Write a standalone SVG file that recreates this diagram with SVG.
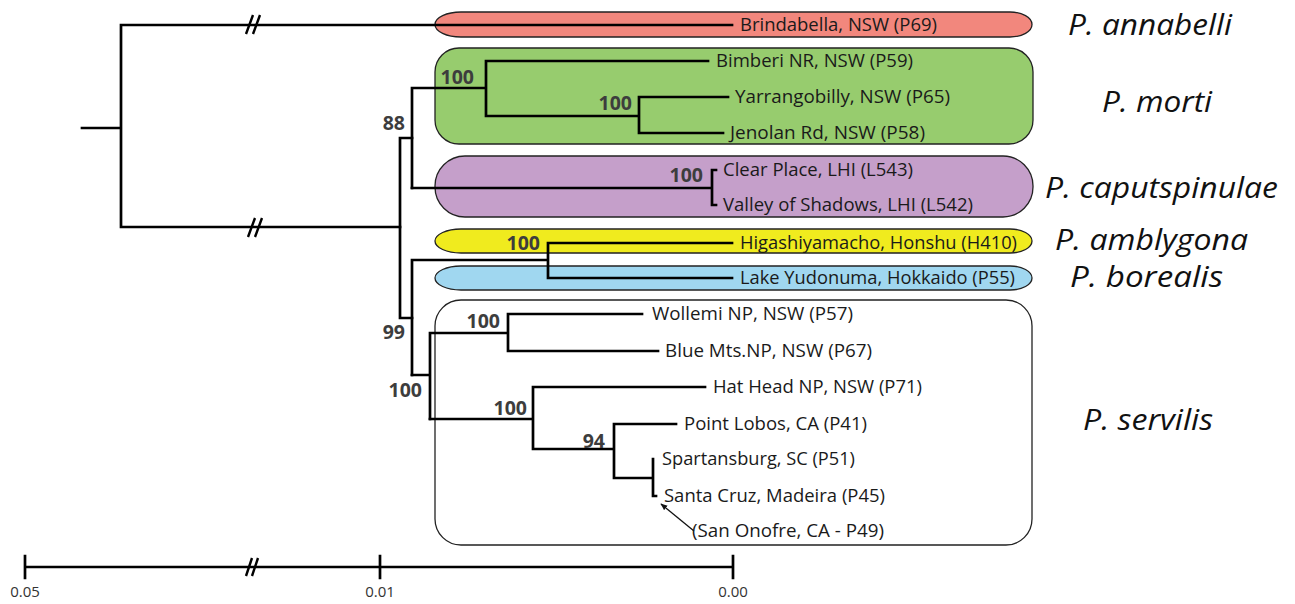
<svg xmlns="http://www.w3.org/2000/svg" width="1295" height="604" viewBox="0 0 1295 604">
<defs>
<marker id="arr" viewBox="0 0 10 10" refX="9" refY="5" markerWidth="7" markerHeight="7" orient="auto" markerUnits="userSpaceOnUse">
<path d="M0,1 L10,5 L0,9 Z" fill="#111"/>
</marker>
</defs>
<style>
.box{stroke:#222;stroke-width:1.3}
.br{fill:none;stroke:#000;stroke-width:2.7;stroke-linecap:square}
.brk{fill:none;stroke:#000;stroke-width:2.4}
.leaf{font-family:"Open Sans","Noto Sans",sans-serif;font-size:19px;fill:#1a1a1a}
.bs{font-family:"Open Sans","Noto Sans",sans-serif;font-size:19.5px;font-weight:bold;fill:#3d3d3d;text-anchor:end}
.sp{font-family:"Open Sans","Noto Sans",sans-serif;font-size:30px;font-style:italic;fill:#111}
.sc{font-family:"Open Sans","Noto Sans",sans-serif;font-size:15px;fill:#333;text-anchor:middle}
</style>
<rect width="1295" height="604" fill="#fff"/>

<g id="clade-annabelli">
<path class="box" fill="#F2877D" d="M461,12 L1010,12 A22,12.5 0 0 1 1010,37 L461,37 A26,12.5 0 0 1 461,12 Z"/>
<text class="sp" x="1068" y="35" textLength="164" lengthAdjust="spacingAndGlyphs">P. annabelli</text>
</g>
<g id="clade-morti">
<rect class="box" fill="#97CC6E" x="435" y="48" width="598" height="96" rx="24" ry="24"/>
<text class="sp" x="1102" y="112" textLength="110" lengthAdjust="spacingAndGlyphs">P. morti</text>
</g>
<g id="clade-caputspinulae">
<rect class="box" fill="#C59FCA" x="435" y="156" width="598" height="61" rx="30" ry="30"/>
<text class="sp" x="1045" y="198" textLength="233" lengthAdjust="spacingAndGlyphs">P. caputspinulae</text>
</g>
<g id="clade-amblygona">
<path class="box" fill="#F0EB1E" d="M461,229 L1010,229 A22,12 0 0 1 1010,253 L461,253 A26,12 0 0 1 461,229 Z"/>
<text class="sp" x="1055" y="250" textLength="193" lengthAdjust="spacingAndGlyphs">P. amblygona</text>
</g>
<g id="clade-borealis">
<path class="box" fill="#A0D7F0" d="M461,266 L1010,266 A22,12 0 0 1 1010,290 L461,290 A26,12 0 0 1 461,266 Z"/>
<text class="sp" x="1070" y="287" textLength="153" lengthAdjust="spacingAndGlyphs">P. borealis</text>
</g>
<g id="clade-servilis">
<rect class="box" fill="#fff" x="435" y="300" width="597" height="245" rx="26" ry="26"/>
<text class="sp" x="1083" y="430" textLength="130" lengthAdjust="spacingAndGlyphs">P. servilis</text>
</g>

<g id="connectors">
<path class="br" d="M82,128 H121 M121,25 V227 M121,25 H732 M121,227 H400"/>
<path class="br" d="M400,138 V318 M400,138 H412 M400,318 H412"/>
<path class="br" d="M412,88 V188 M412,88 H486 M486,61 V116 M486,61 H708 M486,116 H639 M639,97 V133 M639,97 H728 M639,133 H723"/>
<path class="br" d="M412,188 H712 M712,170 V205 M712,170 H716 M712,205 H716"/>
<path class="br" d="M412,260 V375 M412,260 H548 M548,243 V278 M548,243 H732 M548,278 H732"/>
<path class="br" d="M412,375 H430 M430,333 V419 M430,333 H508 M508,314 V351 M508,314 H642 M508,351 H658"/>
<path class="br" d="M430,419 H533 M533,387 V449 M533,387 H705 M533,449 H614 M614,424 V478 M614,424 H676 M614,478 H653 M653,459 V496 M653,496 H656"/>
<path class="brk" d="M246,34 L253,15 M253,34 L260,15 M248,237 L255,218 M255,237 L262,218"/>
<line x1="694" y1="531" x2="661" y2="504" stroke="#111" stroke-width="1.3" marker-end="url(#arr)"/>
</g>

<g id="leaf-labels">
<text class="leaf" x="740" y="31" textLength="197" lengthAdjust="spacingAndGlyphs">Brindabella, NSW (P69)</text>
<text class="leaf" x="716" y="67" textLength="197" lengthAdjust="spacingAndGlyphs">Bimberi NR, NSW (P59)</text>
<text class="leaf" x="735" y="103" textLength="215" lengthAdjust="spacingAndGlyphs">Yarrangobilly, NSW (P65)</text>
<text class="leaf" x="730" y="139" textLength="195" lengthAdjust="spacingAndGlyphs">Jenolan Rd, NSW (P58)</text>
<text class="leaf" x="723" y="176" textLength="190" lengthAdjust="spacingAndGlyphs">Clear Place, LHI (L543)</text>
<text class="leaf" x="723" y="211" textLength="250" lengthAdjust="spacingAndGlyphs">Valley of Shadows, LHI (L542)</text>
<text class="leaf" x="740" y="249" textLength="277" lengthAdjust="spacingAndGlyphs">Higashiyamacho, Honshu (H410)</text>
<text class="leaf" x="740" y="284" textLength="275" lengthAdjust="spacingAndGlyphs">Lake Yudonuma, Hokkaido (P55)</text>
<text class="leaf" x="652" y="320" textLength="201" lengthAdjust="spacingAndGlyphs">Wollemi NP, NSW (P57)</text>
<text class="leaf" x="665" y="357" textLength="207" lengthAdjust="spacingAndGlyphs">Blue Mts.NP, NSW (P67)</text>
<text class="leaf" x="713" y="393" textLength="209" lengthAdjust="spacingAndGlyphs">Hat Head NP, NSW (P71)</text>
<text class="leaf" x="684" y="430" textLength="183" lengthAdjust="spacingAndGlyphs">Point Lobos, CA (P41)</text>
<text class="leaf" x="662" y="465" textLength="193" lengthAdjust="spacingAndGlyphs">Spartansburg, SC (P51)</text>
<text class="leaf" x="664" y="502" textLength="221" lengthAdjust="spacingAndGlyphs">Santa Cruz, Madeira (P45)</text>
<text class="leaf" x="692" y="537" textLength="192" lengthAdjust="spacingAndGlyphs">(San Onofre, CA - P49)</text>
</g>

<g id="bootstrap">
<text class="bs" x="474" y="84">100</text>
<text class="bs" x="632" y="110">100</text>
<text class="bs" x="703" y="182">100</text>
<text class="bs" x="405" y="130">88</text>
<text class="bs" x="540" y="250">100</text>
<text class="bs" x="500" y="328">100</text>
<text class="bs" x="405" y="339">99</text>
<text class="bs" x="422" y="397">100</text>
<text class="bs" x="527" y="415">100</text>
<text class="bs" x="605" y="448">94</text>
</g>

<g id="scale-bar">
<path class="br" d="M25,567 H733 M25,556 V578 M380,556 V578 M733,556 V578" stroke-linecap="butt"/>
<path class="brk" d="M246,576 L252,558 M252,576 L258,558"/>
<text class="sc" x="25" y="597">0.05</text>
<text class="sc" x="380" y="597">0.01</text>
<text class="sc" x="733" y="597">0.00</text>
</g>
</svg>
